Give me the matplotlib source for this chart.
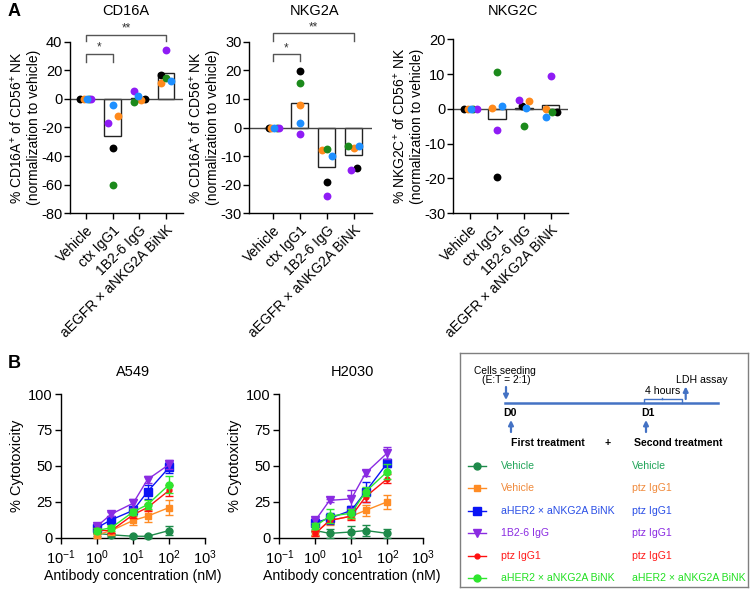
import numpy as np
import matplotlib
matplotlib.use("Agg")
import matplotlib.pyplot as plt
from matplotlib.ticker import LogLocator, NullLocator

plt.rcParams["font.family"] = ["Liberation Sans", "DejaVu Sans"]
plt.rcParams["mathtext.fontset"] = "custom"
plt.rcParams["mathtext.rm"] = "Liberation Sans"
plt.rcParams["mathtext.it"] = "Liberation Sans:italic"
plt.rcParams["mathtext.bf"] = "Liberation Sans:bold"
plt.rcParams["axes.linewidth"] = 1.0
plt.rcParams["axes.unicode_minus"] = False

# ---------------------------------------------------------------------------
# Panel A data (donor order: black, orange, green, purple, blue)
# ---------------------------------------------------------------------------
groups = ["Vehicle", "ctx IgG1", "1B2-6 IgG", "aEGFR × aNKG2A BiNK"]
donor_colors = ["#000000", "#FF8A1C", "#1C8A1C", "#8F1CF5", "#1E8FFF"]

cd16a = [[0, 0, 0, 0, 0],
         [-34.2, -12.3, -60.2, -17.2, -4.2],
         [0.0, -0.9, -2.1, 5.3, 1.9],
         [17.0, 11.4, 14.4, 34.4, 12.3]]
nkg2a = [[0, 0, 0, 0, 0],
         [19.9, 7.9, 15.5, -2.2, 1.5],
         [-18.9, -8.0, -7.6, -24.1, -9.8],
         [-14.0, -7.2, -6.3, -14.8, -6.6]]
nkg2c = [[0, 0, 0, 0, 0],
         [-19.7, 0.1, 10.7, -6.0, 0.8],
         [0.9, 2.3, -4.9, 2.4, 0.2],
         [-1.0, -0.1, -1.0, 9.4, -2.4]]

# horizontal scatter of the dots (layout only)
cd16a_dx = [[-0.21, -0.09, 0.11, 0.19, 0.05], [0, 0.2, 0, -0.18, 0],
            [0.23, 0.06, -0.18, -0.18, -0.05], [-0.19, -0.19, 0, 0, 0.2]]
nkg2a_dx = [[-0.15, -0.06, 0.15, 0.22, 0.05], [0, 0, 0, 0, 0.02],
            [0, -0.17, 0, 0, 0.19], [0.1, 0, -0.21, -0.11, 0.19]]
nkg2c_dx = [[-0.21, -0.06, 0.12, 0.25, 0.05], [0, -0.17, 0, 0, 0.2],
            [-0.06, 0.2, 0, -0.17, 0.09], [0.21, -0.17, 0.04, 0, -0.17]]

# ---------------------------------------------------------------------------
# Panel B data
# ---------------------------------------------------------------------------
conc = [1, 2.5, 10, 25, 100]
series_first = ["Vehicle", "Vehicle", "aHER2 × aNKG2A BiNK", "1B2-6 IgG",
                "ptz IgG1", "aHER2 × aNKG2A BiNK"]
series_second = ["Vehicle", "ptz IgG1", "ptz IgG1", "ptz IgG1",
                 "ptz IgG1", "aHER2 × aNKG2A BiNK"]
series_colors = ["#1E8A4A", "#FF8C24", "#0A14F5", "#8A2BE2", "#FF1010", "#2EE62E"]
text_colors = ["#22A55A", "#F08A3C", "#2A4FE6", "#8A2BE2", "#FF1A1A", "#22E022"]
series_markers = ["o", "s", "s", "v", "o", "o"]
series_msize = [5, 5, 5.5, 5.5, 3.5, 5]

a549_mean = [[3, 2, 1, 1, 5],
             [2, 5, 12, 15, 21],
             [7, 12.5, 19, 32, 49],
             [8, 16.5, 24, 40.5, 51],
             [5, 5, 16, 21, 33],
             [5, 7, 18, 23, 37]]
a549_err = [[1.5, 1.5, 1, 1, 3],
            [2, 3, 3, 4, 5],
            [2, 2, 3, 5, 4],
            [1.5, 1.5, 3, 2.5, 3],
            [1.5, 2, 2, 2.5, 4],
            [1.5, 2, 2, 3, 6]]
h2030_mean = [[5, 3, 4, 5, 3],
              [3, 12, 15, 19, 25],
              [10.5, 13.5, 19, 32, 52],
              [12, 26, 27, 45, 59],
              [3, 12, 15, 28.5, 41],
              [8, 15, 17, 32, 46]]
h2030_err = [[3, 3, 4, 4, 3],
             [2, 3, 2, 4, 5],
             [2, 4, 3, 7, 3],
             [2, 1, 6, 2, 4],
             [2, 2, 3, 4, 3],
             [2, 5, 3, 3, 5]]

W, H = 750, 591
fig = plt.figure(figsize=(W / 100, H / 100), dpi=100)


def px_axes(left, right, top, bottom):
    return fig.add_axes([left / W, 1 - bottom / H, (right - left) / W, (bottom - top) / H])


def px_text(x, y, s, **kw):
    fig.text(x / W, 1 - y / H, s, **kw)


def bracket(ax, x1, x2, y_top, y_leg, label):
    ax.plot([x1, x1, x2, x2], [y_leg, y_top, y_top, y_leg], color="#555555",
            lw=1, clip_on=False)
    ax.text((x1 + x2) / 2, y_top, label, ha="center", va="bottom", fontsize=8.5,
            color="#333333", clip_on=False)


def dot_panel(ax, vals, dx, ylim, yticks, ylabel, xlim):
    x = np.arange(len(groups))
    means = [np.mean(v) for v in vals]
    ax.bar(x, means, width=0.63, color="white", edgecolor="#222222", lw=1, zorder=1)
    ax.axhline(0, color="#444444", lw=1, zorder=2)
    for d in [4, 0, 3, 1, 2]:
        xs = [x[g] + dx[g][d] for g in range(len(groups))]
        ys = [vals[g][d] for g in range(len(groups))]
        ax.scatter(xs, ys, s=32, color=donor_colors[d], zorder=3 + d,
                   linewidths=0, clip_on=False)
    ax.set_xlim(*xlim)
    ax.set_ylim(*ylim)
    ax.set_yticks(yticks)
    ax.set_xticks(x)
    ax.set_xticklabels(groups, rotation=45, ha="right", rotation_mode="anchor",
                       fontsize=10)
    ax.tick_params(axis="y", labelsize=10.5, length=4, width=1, pad=1.5)
    ax.tick_params(axis="x", length=4, width=1, pad=3)
    for s in ["top", "right"]:
        ax.spines[s].set_visible(False)
    ax.set_ylabel(ylabel, fontsize=10, labelpad=0)


# ---- Panel A ----
ax1 = px_axes(70, 183, 41.7, 213.3)
dot_panel(ax1, cd16a, cd16a_dx, (-80, 40), [-80, -60, -40, -20, 0, 20, 40],
          "% CD16A$^{+}$ of CD56$^{+}$ NK\n(normalization to vehicle)", (-0.6, 3.64))
bracket(ax1, 0, 1, 31.6, 25.8, "*")
bracket(ax1, 0, 3, 44.9, 40.2, "**")

ax2 = px_axes(249, 372, 41.7, 213.3)
dot_panel(ax2, nkg2a, nkg2a_dx, (-30, 30), [-30, -20, -10, 0, 10, 20, 30],
          "% CD16A$^{+}$ of CD56$^{+}$ NK\n(normalization to vehicle)", (-0.87, 3.67))
bracket(ax2, 0, 1, 25.6, 23.1, "*")
bracket(ax2, 0, 3, 33.0, 30.1, "**")

ax3 = px_axes(453, 568, 39.3, 213)
dot_panel(ax3, nkg2c, nkg2c_dx, (-30, 20), [-30, -20, -10, 0, 10, 20],
          "% NKG2C$^{+}$ of CD56$^{+}$ NK\n(normalization to vehicle)", (-0.63, 3.63))

px_text(126, 11, "CD16A", ha="center", va="center", fontsize=10.5)
px_text(315, 11, "NKG2A", ha="center", va="center", fontsize=10.5)
px_text(513, 11, "NKG2C", ha="center", va="center", fontsize=10.5)


# ---- Panel B ----
def curve_panel(ax, means, errs):
    order = [0, 1, 5, 4, 2, 3]
    for i in order:
        ax.errorbar(conc, means[i], yerr=errs[i], color=series_colors[i],
                    marker=series_markers[i], ms=series_msize[i], lw=1,
                    elinewidth=1, capsize=3, capthick=1, clip_on=False, zorder=3 + i)
    ax.set_xscale("log")
    ax.set_xlim(0.1, 1000)
    ax.set_ylim(0, 100)
    ax.set_yticks([0, 25, 50, 75, 100])
    ax.xaxis.set_major_locator(LogLocator(base=10, numticks=10))
    ax.xaxis.set_minor_locator(NullLocator())
    ax.tick_params(axis="both", labelsize=10.5, length=4, width=1)
    ax.tick_params(axis="y", pad=2)
    for s in ["top", "right"]:
        ax.spines[s].set_visible(False)
    ax.set_xlabel("Antibody concentration (nM)", fontsize=10.2, labelpad=2)
    ax.set_ylabel("% Cytotoxicity", fontsize=10.5, labelpad=3)


bx1 = px_axes(61, 205.3, 394, 537.7)
curve_panel(bx1, a549_mean, a549_err)
bx2 = px_axes(279.3, 423.3, 394, 537.7)
curve_panel(bx2, h2030_mean, h2030_err)
px_text(133, 372, "A549", ha="center", va="center", fontsize=10.5)
px_text(352, 372, "H2030", ha="center", va="center", fontsize=10.5)

# ---- Panel B schematic box ----
box = px_axes(460, 748, 353, 587)
box.set_xlim(0, 288)
box.set_ylim(234, 0)
box.set_xticks([])
box.set_yticks([])
for s in box.spines.values():
    s.set_color("#7F7F7F")
    s.set_linewidth(1)

tl_blue = "#4472C4"
fs_box = 7.6


def arrow(x, y0, y1):
    box.annotate("", xy=(x, y1), xytext=(x, y0),
                 arrowprops=dict(arrowstyle="-|>", color=tl_blue, lw=1.6,
                                 mutation_scale=7, shrinkA=0, shrinkB=0))


box.plot([45, 258], [50, 50], color=tl_blue, lw=1.8)
box.text(45, 17.5, "Cells seeding", ha="center", va="center", fontsize=7.4)
box.text(46, 27, "(E:T = 2:1)", ha="center", va="center", fontsize=7.4)
arrow(46, 34, 47)
box.text(43, 60, "D0", ha="left", va="center", fontsize=fs_box, fontweight="bold")
box.text(181, 60, "D1", ha="left", va="center", fontsize=fs_box, fontweight="bold")
arrow(51, 79, 67)
arrow(186, 79, 67)
box.plot([184, 184, 222, 222], [49.5, 46, 46, 49.5], color=tl_blue, lw=1)
box.plot([202, 202], [46, 44.5], color=tl_blue, lw=1)
box.text(202.5, 37.7, "4 hours", ha="center", va="center", fontsize=fs_box)
arrow(225.7, 46, 33.5)
box.text(241.7, 27, "LDH assay", ha="center", va="center", fontsize=fs_box)
box.text(88.3, 90.3, "First treatment", ha="center", va="center", fontsize=fs_box,
         fontweight="bold")
box.text(147.3, 90.3, "+", ha="center", va="center", fontsize=fs_box, fontweight="bold")
box.text(218.3, 90.3, "Second treatment", ha="center", va="center", fontsize=fs_box,
         fontweight="bold")

row_y = [112.7, 135.3, 158, 180.3, 203, 224.7]
for i in range(len(series_first)):
    y = row_y[i]
    box.plot([7.7, 25.7], [y, y], color=series_colors[i], lw=1)
    box.plot([16.7], [y], marker=series_markers[i], ms=series_msize[i],
             color=series_colors[i])
    box.text(41, y, series_first[i], ha="left", va="center", fontsize=fs_box,
             color=text_colors[i])
    box.text(172.3, y, series_second[i], ha="left", va="center", fontsize=fs_box,
             color=text_colors[i])

# ---- panel letters ----
px_text(8, 12, "A", fontsize=13, fontweight="bold", va="center")
px_text(8, 364, "B", fontsize=13, fontweight="bold", va="center")

fig.savefig("out.png", dpi=100)
